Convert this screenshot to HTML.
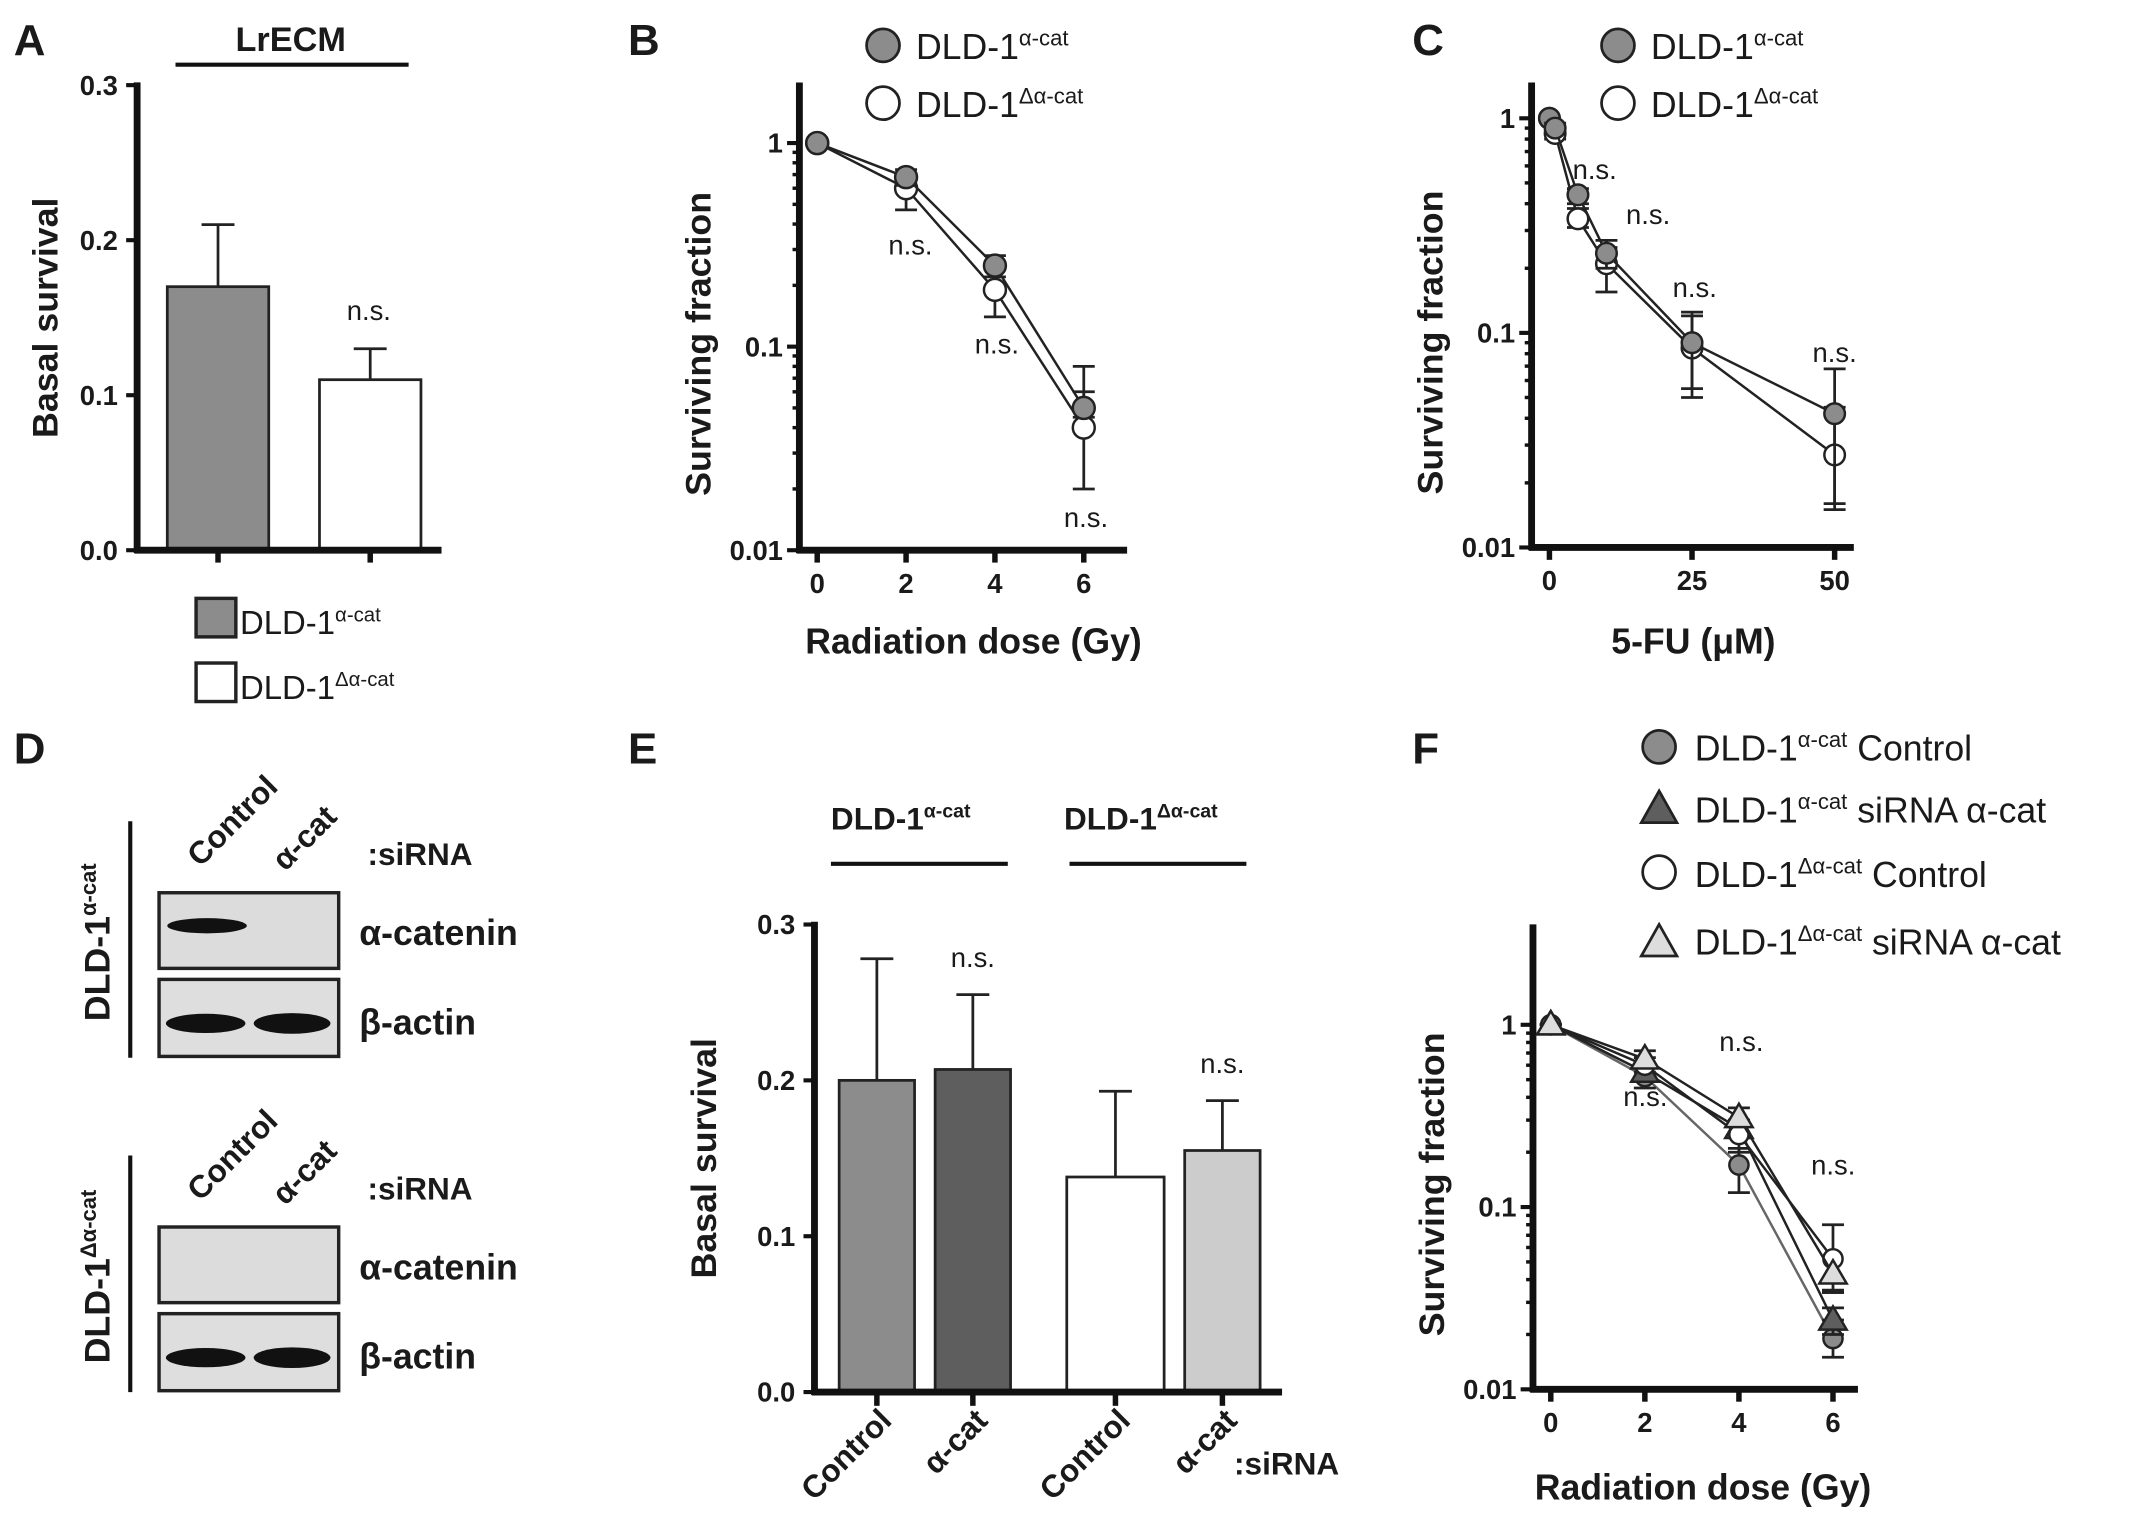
<!DOCTYPE html>
<html><head><meta charset="utf-8"><style>
html,body{margin:0;padding:0;background:#fff;}
svg{display:block;font-family:"Liberation Sans",Arial,sans-serif;}
.b{font-weight:bold;}
</style></head><body>
<svg id="fig" width="2150" height="1531" viewBox="0 0 1568 1113" preserveAspectRatio="none" xmlns="http://www.w3.org/2000/svg">
<g id="root"></g>
</svg>
<script>
// ---- Panel A data
const aCats=["DLD-1α-cat","DLD-1Δα-cat"];
const aVals=[0.17,0.11];
const aErr=[0.21,0.13];
const aTicks=[0.0,0.1,0.2,0.3];
// ---- Panel B data
const bX=[0,2,4,6];
const bGray=[1,0.68,0.25,0.05];
const bGrayHi=[1,0.74,0.28,0.06];
const bGrayLo=[1,0.62,0.22,0.045];
const bWhite=[1,0.6,0.19,0.04];
const bWhiteHi=[1,0.7,0.25,0.08];
const bWhiteLo=[1,0.47,0.14,0.02];
const bXTicks=[0,2,4,6];
// ---- Panel C data
const cX=[0,1,5,10,25,50];
const cGray=[1,0.9,0.44,0.235,0.09,0.042];
const cGrayHi=[1,0.95,0.47,0.27,0.125,0.068];
const cGrayLo=[1,0.85,0.4,0.2,0.055,0.016];
const cWhite=[1,0.85,0.34,0.21,0.085,0.027];
const cWhiteHi=[1,0.9,0.38,0.25,0.12,0.045];
const cWhiteLo=[1,0.8,0.31,0.155,0.05,0.015];
const cXTicks=[0,25,50];
const logTicks=[1,0.1,0.01];
const logLabels=["1","0.1","0.01"];
// ---- Panel E data
const eCats=["Control","α-cat","Control","α-cat"];
const eVals=[0.2,0.207,0.138,0.155];
const eErr=[0.278,0.255,0.193,0.187];
const eFill=["#8c8c8c","#5e5e5e","#ffffff","#cccccc"];
// ---- Panel F data
const fX=[0,2,4,6];
const fGrayC=[1,0.52,0.17,0.019];
const fDarkT=[1,0.55,0.27,0.024];
const fWhiteC=[1,0.6,0.25,0.052];
const fLightT=[1,0.65,0.31,0.043];
const fErrHi=[[1,0.58,0.21,0.024],[1,0.6,0.3,0.028],[1,0.66,0.3,0.08],[1,0.72,0.35,0.034]];
const fErrLo=[[1,0.45,0.12,0.015],[1,0.5,0.24,0.02],[1,0.55,0.2,0.035],[1,0.6,0.28,0.034]];

const NS="http://www.w3.org/2000/svg";
const root=document.getElementById('root');
function el(tag,attrs,parent){const e=document.createElementNS(NS,tag);for(const k in attrs)e.setAttribute(k,attrs[k]);(parent||root).appendChild(e);return e;}
function line(x1,y1,x2,y2,w,c,p){return el('line',{x1,y1,x2,y2,stroke:c||'#111','stroke-width':w||2},p);}
function text(x,y,s,size,opts,p){const t=el('text',Object.assign({x,y,'font-size':size,fill:'#1a1a1a'},opts||{}),p);t.textContent=s;return t;}
function supText(x,y,base,sup,size,opts,p){const t=el('text',Object.assign({x,y,'font-size':size,fill:'#1a1a1a'},opts||{}),p);t.textContent=base;const s=document.createElementNS(NS,'tspan');s.setAttribute('font-size',size*0.62);s.setAttribute('dy',-size*0.38);s.textContent=sup;t.appendChild(s);return t;}

// Panel letters
[["A",10,40],["B",458,40],["C",1030,40],["D",10,555],["E",458,555],["F",1030,555]].forEach(a=>{
  const t=text(a[1],a[2],a[0],32,{class:'b'});
  
  
});

// ===== Panel A
(function(){
  const g=el('g',{});
  
  
  const y0=400,ppu=1127;
  const y=v=>y0-v*ppu;
  const bx=[122,233],bw=74;
  aTicks.forEach(v=>{line(92,y(v),100,y(v),3,'#111',g);const t=text(86,y(v)+7,v.toFixed(1),20,{class:'b','text-anchor':'end'},g);});
  line(100,y(0.3)-2,100,y0+2,5,'#111',g);
  aVals.forEach((v,i)=>{
    const cx=bx[i]+bw/2;
    line(cx,y(v),cx,y(aErr[i]),2,'#222',g);line(cx-12,y(aErr[i]),cx+12,y(aErr[i]),2,'#222',g);
    const r=el('rect',{x:bx[i],y:y(v),width:bw,height:y0-y(v),fill:i?'#fff':'#8c8c8c',stroke:'#222','stroke-width':2},g);
    
    
    line(cx,y0,cx,y0+9,4,'#111',g);
  });
  line(98,y0,322,y0,5,'#111',g);
  const ns=text(269,y(aErr[1])-21,'n.s.',20,{'text-anchor':'middle'},g);
  const lt=text(212,37,'LrECM',25,{class:'b','text-anchor':'middle'},g);
  line(128,47,298,47,3,'#111',g);
  const yt=text(0,0,'Basal survival',26,{class:'b','text-anchor':'middle',transform:'translate(42,231) rotate(-90)'},g);
  const lg=el('g',{},g);
  el('rect',{x:143,y:435,width:29,height:28,fill:'#8c8c8c',stroke:'#222','stroke-width':2.5},lg);
  el('rect',{x:143,y:482,width:29,height:28,fill:'#fff',stroke:'#222','stroke-width':2.5},lg);
  supText(175,461,'DLD-1','α-cat',24,{},lg);
  supText(175,508,'DLD-1','Δα-cat',24,{},lg);
})();

// generic log chart
function logChart(name,ax,ytop,y1,dec,xScale,xticks,xtickLab,seriesList,xTitle,xTitleX,xTitleY,axisBottom,xEnd){
  const g=el('g',{});
  
  
  const y=v=>y1-Math.log10(v)*dec;
  for(let d=0;d<2;d++)for(let m=2;m<=9;m++){const v=m*Math.pow(10,-d-1);line(ax-5,y(v),ax,y(v),2.5,'#111',g);}
  logTicks.forEach((v,i)=>{line(ax-9,y(v),ax,y(v),3,'#111',g);const t=text(ax-12,y(v)+7,logLabels[i],20,{class:'b','text-anchor':'end'},g);});
  line(ax,ytop,ax,axisBottom+2,5,'#111',g);
  line(ax-2,axisBottom,xEnd,axisBottom,5,'#111',g);
  xticks.forEach((v,i)=>{line(xScale(v),axisBottom,xScale(v),axisBottom+9,4,'#111',g);const t=text(xScale(v),axisBottom+31,xtickLab[i],20,{class:'b','text-anchor':'middle'},g);});
  seriesList.forEach(s=>{
    const sg=el('g',{},g);
    const pts=s.vals.map((v,i)=>xScale(s.x[i])+','+y(v)).join(' ');
    el('polyline',{points:pts,fill:'none',stroke:s.line||'#222','stroke-width':1.8},sg);
    s.vals.forEach((v,i)=>{
      const X=xScale(s.x[i]);
      if(s.hi){line(X,y(s.hi[i]),X,y(s.lo[i]),2,'#222',sg);line(X-8,y(s.hi[i]),X+8,y(s.hi[i]),2,'#222',sg);line(X-8,y(s.lo[i]),X+8,y(s.lo[i]),2,'#222',sg);}
      if(s.shape==='tri'){const r=10;el('polygon',{points:`${X},${y(v)-r} ${X-r},${y(v)+r*0.7} ${X+r},${y(v)+r*0.7}`,fill:s.fill,stroke:'#222','stroke-width':1.8},sg);}
      else el('circle',{cx:X,cy:y(v),r:s.r||8,fill:s.fill,stroke:'#222','stroke-width':1.8},sg);
    });
  });
  const xt=text(xTitleX,xTitleY,xTitle,26,{class:'b','text-anchor':'middle'},g);
  const yt=text(0,0,'Surviving fraction',26,{class:'b','text-anchor':'middle',transform:`translate(${ax-65},${(ytop+axisBottom)/2+20}) rotate(-90)`},g);
  return {g,y};
}

// ===== Panel B
(function(){
  const xs=v=>596+v*32.4;
  const r=logChart('panel-b-radiation-chart',583,60,104,148,xs,bXTicks,bXTicks.map(String),[
    {name:'series-delta-alpha-cat',x:bX,vals:bWhite,hi:bWhiteHi,lo:bWhiteLo,fill:'#fff'},
    {name:'series-alpha-cat',x:bX,vals:bGray,hi:bGrayHi,lo:bGrayLo,fill:'#8c8c8c'}
  ],'Radiation dose (Gy)',710,475,400,822);
  [[664,185],[727,257],[792,383]].forEach(a=>{const t=text(a[0],a[1],'n.s.',20,{'text-anchor':'middle'},r.g);});
  const lg=el('g',{},r.g);
  el('circle',{cx:644,cy:33,r:12,fill:'#8c8c8c',stroke:'#222','stroke-width':2},lg);
  el('circle',{cx:644,cy:75,r:12,fill:'#fff',stroke:'#222','stroke-width':2},lg);
  supText(668,43,'DLD-1','α-cat',26,{},lg);
  supText(668,85,'DLD-1','Δα-cat',26,{},lg);
})();

// ===== Panel C
(function(){
  const xs=v=>1130+v*4.16;
  const r=logChart('panel-c-5fu-chart',1117,60,86,156,xs,cXTicks,cXTicks.map(String),[
    {name:'series-delta-alpha-cat',x:cX,vals:cWhite,hi:cWhiteHi,lo:cWhiteLo,fill:'#fff',r:7.5},
    {name:'series-alpha-cat',x:cX,vals:cGray,hi:cGrayHi,lo:cGrayLo,fill:'#8c8c8c',r:7.5}
  ],'5-FU (μM)',1235,475,398,1352);
  [[1163,130],[1202,163],[1236,216],[1338,263]].forEach(a=>{const t=text(a[0],a[1],'n.s.',20,{'text-anchor':'middle'},r.g);});
  const lg=el('g',{},r.g);
  el('circle',{cx:1180,cy:33,r:12,fill:'#8c8c8c',stroke:'#222','stroke-width':2},lg);
  el('circle',{cx:1180,cy:75,r:12,fill:'#fff',stroke:'#222','stroke-width':2},lg);
  supText(1204,43,'DLD-1','α-cat',26,{},lg);
  supText(1204,85,'DLD-1','Δα-cat',26,{},lg);
})();

// ===== Panel D blots
function blotSet(name,top,alphaBand,sideSup){
  const g=el('g',{});
  line(95,top,95,top+172,3,'#111',g);
  const st=text(0,0,'',26,{class:'b','text-anchor':'middle',transform:`translate(80,${top+88}) rotate(-90)`},g);
  st.textContent='DLD-1';const sp=document.createElementNS(NS,'tspan');sp.setAttribute('font-size',16);sp.setAttribute('dy',-10);sp.textContent=sideSup;st.appendChild(sp);
  
  const bt=top+52;
  el('rect',{x:116,y:bt,width:131,height:55,fill:'#dcdcdc',stroke:'#222','stroke-width':2.5},g);
  el('rect',{x:116,y:bt+63,width:131,height:56,fill:'#dedede',stroke:'#222','stroke-width':2.5},g);
  if(alphaBand)el('ellipse',{cx:151,cy:bt+24,rx:29,ry:5.5,fill:'#111'},g);
  el('ellipse',{cx:150,cy:bt+95,rx:29,ry:7,fill:'#111'},g);
  el('ellipse',{cx:213,cy:bt+95,rx:28,ry:7.5,fill:'#111'},g);
  text(262,bt+38,'α-catenin',26,{class:'b'},g);
  text(262,bt+103,'β-actin',26,{class:'b'},g);
  text(268,bt-20,':siRNA',23,{class:'b'},g);
  text(0,0,'Control',23,{class:'b',transform:`translate(146,${bt-18}) rotate(-45)`},g);
  text(0,0,'α-cat',23,{class:'b',transform:`translate(208,${bt-15}) rotate(-45)`},g);
}
blotSet('western-blot-alpha-cat',597,true,'α-cat');
blotSet('western-blot-delta-alpha-cat',840,false,'Δα-cat');

// ===== Panel E
(function(){
  const g=el('g',{});
  const y0=1012,ppu=1133;const y=v=>y0-v*ppu;
  const bx=[612,682,778,864],bw=[55,55,71,55];
  aTicks.forEach(v=>{line(586,y(v),594,y(v),3,'#111',g);const t=text(580,y(v)+7,v.toFixed(1),20,{class:'b','text-anchor':'end'},g);});
  line(594,y(0.3)-2,594,y0+2,5,'#111',g);
  eVals.forEach((v,i)=>{
    const cx=bx[i]+bw[i]/2;
    line(cx,y(v),cx,y(eErr[i]),2,'#222',g);line(cx-12,y(eErr[i]),cx+12,y(eErr[i]),2,'#222',g);
    const r=el('rect',{x:bx[i],y:y(v),width:bw[i],height:y0-y(v),fill:eFill[i],stroke:'#222','stroke-width':2},g);
    
    
    line(cx,y0,cx,y0+10,4,'#111',g);
    const t=text(0,0,eCats[i],23,{class:'b','text-anchor':'end',transform:`translate(${cx+12},${y0+22}) rotate(-45)`},g);
    
  });
  line(592,y0,935,y0,5,'#111',g);
  text(900,1072,':siRNA',23,{class:'b'},g);
  [[1,'n.s.'],[3,'n.s.']].forEach(a=>{const i=a[0];const t=text(bx[i]+bw[i]/2,y(eErr[i])-20,a[1],20,{'text-anchor':'middle'},g);});
  supText(606,603,'DLD-1','α-cat',23,{class:'b'},g);
  supText(776,603,'DLD-1','Δα-cat',23,{class:'b'},g);
  line(606,628,735,628,3,'#111',g);line(780,628,909,628,3,'#111',g);
  const yt=text(0,0,'Basal survival',26,{class:'b','text-anchor':'middle',transform:'translate(522,842) rotate(-90)'},g);
})();

// ===== Panel F
(function(){
  const xs=v=>1131+v*34.3;
  const r=logChart('panel-f-radiation-chart',1118,672,745,132.5,xs,bXTicks,bXTicks.map(String),[
    {name:'series-alpha-cat-control',x:fX,vals:fGrayC,hi:fErrHi[0],lo:fErrLo[0],fill:'#8c8c8c',line:'#666',r:7},
    {name:'series-alpha-cat-sirna',x:fX,vals:fDarkT,hi:fErrHi[1],lo:fErrLo[1],fill:'#5e5e5e',shape:'tri'},
    {name:'series-delta-control',x:fX,vals:fWhiteC,hi:fErrHi[2],lo:fErrLo[2],fill:'#fff',r:7},
    {name:'series-delta-sirna',x:fX,vals:fLightT,hi:fErrHi[3],lo:fErrLo[3],fill:'#ddd',shape:'tri'}
  ],'Radiation dose (Gy)',1242,1090,1010,1355);
  [[1200,804],[1270,764],[1337,854]].forEach(a=>{const t=text(a[0],a[1],'n.s.',20,{'text-anchor':'middle'},r.g);});
  const lg=el('g',{},r.g);
  el('circle',{cx:1210,cy:543,r:12,fill:'#8c8c8c',stroke:'#222','stroke-width':2},lg);
  el('polygon',{points:'1210,575 1197,598 1223,598',fill:'#5e5e5e',stroke:'#222','stroke-width':2},lg);
  el('circle',{cx:1210,cy:634,r:12,fill:'#fff',stroke:'#222','stroke-width':2},lg);
  el('polygon',{points:'1210,672 1197,695 1223,695',fill:'#ddd',stroke:'#222','stroke-width':2},lg);
  const L=[['α-cat','Control',553],['α-cat','siRNA α-cat',598],['Δα-cat','Control',645],['Δα-cat','siRNA α-cat',694]];
  L.forEach(a=>{const t=supText(1236,a[2],'DLD-1',a[0],26,{},lg);const s=document.createElementNS(NS,'tspan');s.setAttribute('dy',26*0.38);s.setAttribute('font-size',26);s.textContent=' '+a[1];t.appendChild(s);});
})();
</script>
</body></html>
